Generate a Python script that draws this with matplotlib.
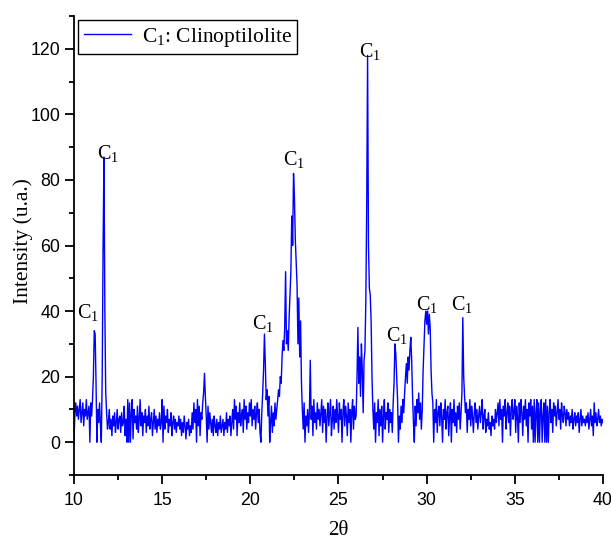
import numpy as np
import matplotlib
matplotlib.use('Agg')
import matplotlib.pyplot as plt
from matplotlib.ticker import MultipleLocator

# XRD pattern, 2theta from 10 to 40 in 0.05 steps (one row per degree)
two_theta_start = 10.0
two_theta_step = 0.05
intensity_rows = [
    [0, 9, 12, 8, 11, 7, 10, 13, 6, 9, 12, 5, 10, 8, 13, 7, 9, 11, 0, 12],          # 10
    [8, 13, 20, 34, 33, 18, 0, 10, 6, 12, 5, 0, 20, 60, 87, 40, 15, 9, 4, 6],       # 11
    [10, 4, 7, 2, 8, 5, 9, 3, 6, 10, 4, 7, 8, 3, 9, 5, 6, 11, 2, 7],                # 12
    [0, 13, 0, 12, 0, 9, 13, 1, 10, 6, 8, 4, 11, 3, 7, 13, 5, 9, 2, 8],             # 13
    [6, 10, 3, 8, 5, 11, 4, 7, 9, 2, 6, 10, 4, 8, 3, 7, 5, 9, 4, 6],                # 14
    [13, 0, 11, 4, 8, 6, 10, 3, 7, 5, 9, 2, 6, 8, 4, 7, 3, 6, 5, 8],                # 15
    [4, 7, 2, 6, 3, 8, 5, 1, 6, 4, 7, 2, 5, 3, 9, 4, 12, 6, 10, 0],                 # 16
    [13, 5, 11, 2, 9, 7, 12, 15, 21, 14, 8, 0, 11, 4, 9, 6, 3, 7, 2, 8],            # 17
    [5, 3, 7, 2, 6, 4, 8, 3, 5, 7, 2, 6, 4, 9, 3, 7, 5, 8, 2, 6],                   # 18
    [10, 4, 13, 7, 11, 2, 9, 6, 12, 5, 8, 10, 3, 13, 7, 11, 4, 9, 6, 12],           # 19
    [8, 13, 5, 10, 7, 11, 4, 9, 12, 6, 10, 3, 0, 9, 15, 22, 33, 24, 13, 16],        # 20
    [8, 14, 0, 6, 11, 3, 9, 5, 12, 7, 10, 13, 16, 14, 20, 18, 26, 31, 28, 35],      # 21
    [52, 30, 34, 28, 38, 45, 52, 69, 60, 82, 75, 62, 55, 48, 30, 44, 26, 37, 18, 10],  # 22
    [4, 12, 0, 8, 5, 10, 3, 9, 25, 7, 11, 2, 13, 6, 9, 4, 12, 7, 10, 5],            # 23
    [9, 13, 3, 11, 6, 10, 0, 8, 12, 5, 9, 13, 2, 7, 11, 4, 10, 6, 13, 8],           # 24
    [3, 12, 7, 10, 0, 9, 13, 5, 11, 8, 2, 12, 6, 10, 0, 9, 13, 4, 11, 7],           # 25
    [8, 20, 35, 18, 26, 14, 30, 22, 9, 25, 28, 43, 72, 118, 60, 47, 45, 37, 20, 10],  # 26
    [4, 12, 0, 9, 6, 13, 2, 10, 5, 11, 0, 8, 13, 4, 9, 7, 12, 3, 10, 6],            # 27
    [9, 3, 12, 18, 30, 27, 20, 13, 0, 8, 4, 11, 6, 13, 9, 15, 20, 24, 18, 26],      # 28
    [22, 28, 32, 25, 14, 6, 0, 11, 5, 13, 9, 15, 7, 12, 4, 10, 22, 30, 37, 40],     # 29
    [36, 40, 33, 39, 35, 22, 15, 12, 0, 10, 6, 13, 3, 9, 11, 5, 12, 8, 0, 10],      # 30
    [7, 13, 4, 9, 11, 2, 8, 12, 0, 10, 6, 13, 5, 9, 3, 11, 7, 12, 4, 9],            # 31
    [15, 38, 20, 14, 9, 12, 3, 10, 7, 13, 5, 11, 8, 3, 9, 12, 6, 10, 4, 8],         # 32
    [11, 6, 9, 13, 4, 8, 10, 3, 7, 5, 9, 4, 6, 2, 8, 5, 7, 4, 10, 6],               # 33
    [9, 12, 5, 13, 7, 10, 0, 11, 8, 13, 4, 9, 12, 6, 11, 2, 10, 13, 7, 9],          # 34
    [13, 3, 11, 8, 0, 12, 6, 13, 9, 2, 11, 7, 13, 5, 10, 0, 12, 8, 13, 4],          # 35
    [11, 0, 13, 0, 9, 13, 0, 12, 0, 10, 13, 0, 8, 12, 0, 13, 0, 11, 0, 9],          # 36
    [13, 6, 10, 3, 12, 8, 11, 5, 9, 13, 7, 10, 4, 12, 8, 6, 11, 9, 5, 10],          # 37
    [7, 9, 5, 8, 6, 10, 4, 7, 9, 5, 8, 6, 9, 3, 7, 10, 5, 8, 6, 7],                 # 38
    [5, 8, 6, 9, 4, 7, 10, 5, 8, 2, 12, 6, 9, 5, 7, 10, 6, 8, 5, 7],                # 39
    [6],                                                                              # 40
]

# "C1" peak labels (2theta, intensity where the label sits)
label_x = [10.79, 11.90, 20.72, 22.45, 26.79, 28.29, 30.02, 32.00]
label_y = [36.5, 85.0, 33.0, 83.0, 116.0, 29.5, 38.8, 38.8]

intensity = np.array([v for row in intensity_rows for v in row], dtype=float)
two_theta = two_theta_start + two_theta_step * np.arange(len(intensity))

plt.rcParams['mathtext.fontset'] = 'custom'
plt.rcParams['mathtext.rm'] = 'Liberation Serif'
plt.rcParams['mathtext.default'] = 'regular'

fig = plt.figure(figsize=(6.11, 5.43), dpi=100)
ax = fig.add_axes([0.1211, 0.1252, 0.8658, 0.8453])

ax.plot(two_theta, intensity, color='#0000ff', linewidth=1.0,
        label='C$_1$: Clinoptilolite')

for x, y in zip(label_x, label_y):
    ax.text(x, y, 'C$_1$', ha='center', va='bottom', fontsize=14.5,
            family='Liberation Serif')

ax.set_xlim(10, 40)
ax.set_ylim(-10, 130)
ax.xaxis.set_major_locator(MultipleLocator(5))
ax.xaxis.set_minor_locator(MultipleLocator(2.5))
ax.yaxis.set_major_locator(MultipleLocator(20))
ax.yaxis.set_minor_locator(MultipleLocator(10))
ax.set_yticks([0, 20, 40, 60, 80, 100, 120])

ax.spines['top'].set_visible(False)
ax.spines['right'].set_visible(False)
ax.spines['left'].set_linewidth(1.3)
ax.spines['bottom'].set_linewidth(1.3)
ax.tick_params(which='major', direction='out', length=6.5, width=1.3,
               labelsize=12.8)
ax.tick_params(axis='x', which='major', pad=5.5)
ax.tick_params(which='minor', direction='out', length=3.5, width=1.3)
for lab in ax.get_xticklabels() + ax.get_yticklabels():
    lab.set_family('Liberation Sans')

ax.set_xlabel('2θ', family='Liberation Serif', fontsize=15, labelpad=9)
ax.set_ylabel('Intensity (u.a.)', family='Liberation Serif', fontsize=15.5)
ax.yaxis.set_label_coords(-0.077, 0.51)

leg = ax.legend(loc='upper left', prop={'family': 'Liberation Serif', 'size': 15.5},
                fancybox=False, edgecolor='black', framealpha=1,
                handlelength=2.2, handletextpad=0.5, borderaxespad=0.2,
                borderpad=0.25)
leg.get_frame().set_linewidth(1.0)

fig.savefig('out.png', dpi=100)
